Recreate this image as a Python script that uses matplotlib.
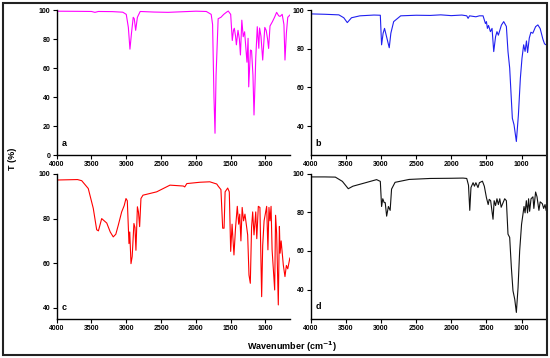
import matplotlib
matplotlib.use("Agg")
import matplotlib.pyplot as plt
from matplotlib.patches import Rectangle

plt.rcParams['font.family'] = ['Liberation Sans', 'DejaVu Sans']
plt.rcParams['font.weight'] = 'bold'

# FTIR spectra, wavenumber (cm-1) and transmittance (%)
wn_a = [4000, 3700, 3500, 3450, 3400, 3200, 3050, 3000, 2970, 2947, 2925, 2900, 2885, 2865, 2840,
        2800, 2600, 2400, 2200, 2000, 1850, 1780, 1760, 1740, 1725, 1710, 1680, 1640, 1600, 1560,
        1535, 1500, 1477, 1460, 1448, 1430, 1418, 1395, 1375, 1360, 1340, 1320, 1300, 1266, 1250,
        1241, 1216, 1200, 1180, 1165, 1150, 1140, 1118, 1096, 1085, 1065, 1040, 1010, 990, 970,
        955, 935, 900, 870, 840, 810, 790, 760, 735, 720, 700, 680, 650]
t_a = [99.2, 99.1, 99, 98.4, 99, 98.9, 98.5, 97, 88, 73, 84, 95, 94, 86, 95,
       99, 98.6, 98.4, 98.8, 99.2, 99, 97, 90, 40, 15, 55, 94, 95, 97, 98.5,
       99.3, 97, 79, 86, 87.4, 82, 76, 86, 80, 69, 93, 81.6, 85, 64, 80.5,
       47, 72.4, 72, 55, 27.6, 50, 66.7, 88.5, 73.6, 87.6, 82, 65.5, 88, 86, 80,
       73.5, 89, 92, 95, 98.4, 96, 95.6, 97, 90, 65.5, 84, 95, 96.5]

wn_b = [4000, 3800, 3600, 3530, 3480, 3420, 3300, 3100, 3010, 2992, 2970, 2950, 2920, 2883, 2860,
        2820, 2720, 2500, 2300, 2150, 2000, 1850, 1780, 1761, 1740, 1650, 1600, 1548, 1514, 1500,
        1486, 1470, 1443, 1420, 1396, 1370, 1350, 1330, 1287, 1254, 1216, 1193, 1169, 1131, 1107,
        1074, 1045, 1017, 994, 970, 950, 930, 914, 890, 867, 840, 800, 768, 735, 697, 673, 650]
t_b = [98, 97.8, 97.5, 96, 93.5, 96, 97, 97.4, 97.3, 82, 88, 90.5, 86, 80.5, 88,
       94, 97, 97.3, 97.2, 97.5, 97.1, 97.4, 97, 95.7, 97, 96.5, 97, 97, 93, 94,
       90.5, 92, 88.8, 90.5, 78.5, 86.2, 88.8, 87, 92.2, 94, 91.5, 78.5, 70, 44, 40.6,
       32, 45.7, 64.7, 75, 82, 78.6, 84, 78, 85.5, 88.5, 88, 91.4, 92.3, 90.4, 85, 82.5, 82]

wn_c = [4000, 3700, 3640, 3546, 3474, 3425, 3400, 3353, 3280, 3230, 3187, 3150, 3115, 3066, 3030,
        3004, 2985, 2961, 2950, 2932, 2915, 2890, 2875, 2861, 2840, 2825, 2808, 2789, 2760, 2563,
        2372, 2180, 2160, 2130, 1940, 1800, 1700, 1678, 1640, 1615, 1595, 1580, 1543, 1520, 1500,
        1480, 1453, 1430, 1405, 1385, 1370, 1353, 1335, 1315, 1295, 1256, 1237, 1218, 1200, 1184,
        1165, 1140, 1125, 1103, 1080, 1055, 1040, 1020, 983, 965, 950, 935, 920, 905, 868,
        855, 840, 816, 800, 790, 775, 744, 720, 700, 680, 650]
t_c = [97.3, 97.5, 97, 93.5, 84.6, 75, 74.5, 80, 78, 74, 71.8, 73, 77, 83, 85.8,
       89, 88, 68.8, 74, 59.8, 63, 77.8, 76, 65.8, 85.3, 83, 76.4, 89, 90.5, 92,
       95, 94.6, 94.2, 95.7, 96.3, 96.5, 95.5, 94.5, 93, 75.7, 75.7, 92, 93.7, 92, 65.3,
       77.5, 63.7, 76, 85.5, 77.5, 82, 70, 85, 79, 82, 72.7, 54.7, 51, 76, 83,
       72.7, 83, 71, 85.5, 85, 45, 68, 79, 85.5, 66, 85, 79, 85.5, 66, 48,
       81.5, 73.5, 41.3, 76.5, 64.5, 70, 59.2, 54, 59, 57.5, 62.3]

wn_d = [4000, 3800, 3650, 3550, 3466, 3400, 3250, 3063, 3010, 2992, 2975, 2955, 2940, 2920, 2895,
        2870, 2850, 2800, 2600, 2300, 2000, 1833, 1780, 1755, 1737, 1720, 1690, 1670, 1650, 1620,
        1600, 1557, 1530, 1500, 1475, 1460, 1440, 1406, 1390, 1370, 1350, 1330, 1310, 1290, 1240,
        1216, 1193, 1169, 1145, 1122, 1097, 1074, 1050, 1027, 1000, 980, 965, 950, 932, 915,
        900, 885, 865, 838, 825, 800, 780, 753, 735, 705, 685, 666, 650]
t_d = [98.3, 98.3, 98.2, 96, 92.2, 93.5, 95, 96.9, 96, 83, 87, 85, 85, 78, 83,
       81, 92, 95.5, 97, 97.5, 97.6, 97.7, 97.5, 94, 81, 92.8, 95.3, 93.5, 95.3, 92.8,
       95.3, 96.1, 93.5, 87.6, 84, 86.7, 86, 76.4, 86, 83.5, 87, 84, 87, 82.6, 87,
       86, 68.7, 67, 51.4, 39.4, 35, 28.2, 41, 60, 73.8, 79, 83, 79.7, 86, 79.7,
       87, 80.5, 87, 88, 82, 90.5, 88, 81, 85.4, 84.5, 82, 84, 81]

x_ticks = [4000, 3500, 3000, 2500, 2000, 1500, 1000]

fig = plt.figure(figsize=(5.5, 3.58), dpi=100)

panels = [
    ('a', wn_a, t_a, '#FF00FF', (0.103, 0.567, 0.424, 0.405), (0, 100), [0, 20, 40, 60, 80, 100]),
    ('b', wn_b, t_b, '#2020F0', (0.565, 0.567, 0.428, 0.405), (25, 100), [40, 60, 80, 100]),
    ('c', wn_c, t_c, '#FF0000', (0.103, 0.109, 0.424, 0.405), (35, 100), [40, 60, 80, 100]),
    ('d', wn_d, t_d, '#111111', (0.565, 0.110, 0.428, 0.405), (25, 100), [40, 60, 80, 100]),
]

for letter, wn, t, col, rect, ylim, yt in panels:
    ax = fig.add_axes(rect)
    ax.plot(wn, t, color=col, lw=0.8)
    ax.set_xlim(4000, 650)
    ax.set_ylim(*ylim)
    ax.set_xticks(x_ticks)
    ax.set_yticks(yt)
    ax.spines['top'].set_visible(False)
    ax.spines['right'].set_visible(False)
    for s in ['left', 'bottom']:
        ax.spines[s].set_linewidth(1.0)
    ax.tick_params(direction='out', length=3, width=0.8, labelsize=5, pad=1.5)
    for lab in ax.get_xticklabels() + ax.get_yticklabels():
        lab.set_fontweight('bold')
    ax.text(0.02, 0.05, letter, transform=ax.transAxes, fontsize=6.5,
            fontweight='bold', ha='left', va='bottom')

fig.text(0.022, 0.555, 'T (%)', rotation=90, fontsize=6.5, fontweight='bold',
         ha='center', va='center')
fig.text(0.53, 0.03, 'Wavenumber (cm$^{\\mathbf{-1}}$)', fontsize=6.5, fontweight='bold',
         ha='center', va='center')

fig.patches.append(Rectangle((3 / 550, 3 / 358), 544 / 550, 352 / 358, fill=False,
                             lw=1.5, edgecolor='#222222', transform=fig.transFigure))

fig.savefig('out.png', dpi=100)
